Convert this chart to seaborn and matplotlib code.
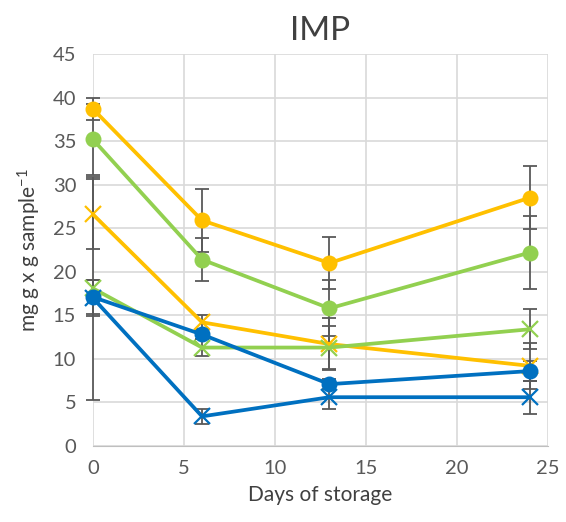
import matplotlib
matplotlib.use("Agg")
import matplotlib.pyplot as plt
import pandas as pd
import seaborn as sns

sns.set_style("white")
plt.rcParams.update({
    "font.family": ["Lato", "DejaVu Sans"],
    "mathtext.default": "regular",
})

days = [0, 6, 13, 24]

# series values (mean) and error
orange_circle = [38.7, 25.9, 21.0, 28.5]
orange_circle_err = [1.3, 3.6, 3.0, 3.6]
green_circle = [35.2, 21.4, 15.8, 22.2]
green_circle_err = [4.1, 2.5, 3.2, 4.2]
orange_x = [26.6, 14.2, 11.7, 9.2]
orange_x_err = [4.0, 0.8, 3.0, 2.6]
green_x = [18.1, 11.3, 11.3, 13.4]
green_x_err = [12.8, 1.0, 2.5, 2.3]
blue_circle = [17.1, 12.8, 7.1, 8.6]
blue_circle_err = [1.9, 0.5, 0.6, 1.1]
blue_x = [17.0, 3.4, 5.6, 5.6]
blue_x_err = [2.1, 0.9, 1.3, 1.9]

series = [
    ("orange_circle", orange_circle, orange_circle_err, "#FFC000", "o"),
    ("green_circle", green_circle, green_circle_err, "#92D050", "o"),
    ("orange_x", orange_x, orange_x_err, "#FFC000", "x"),
    ("green_x", green_x, green_x_err, "#92D050", "x"),
    ("blue_circle", blue_circle, blue_circle_err, "#0070C0", "o"),
    ("blue_x", blue_x, blue_x_err, "#0070C0", "x"),
]

fig = plt.figure(figsize=(5.66, 5.22), dpi=100)
ax = fig.add_axes([0.164, 0.1456, 0.804, 0.751])

for name, vals, errs, col, mk in series:
    eb = ax.errorbar(days, vals, yerr=errs, fmt="none", ecolor="#595959",
                     elinewidth=1.3, capsize=5, capthick=1.3, zorder=2)
    for art in eb.lines[1] + eb.lines[2]:
        art.set_clip_on(False)

for name, vals, errs, col, mk in series:
    df = pd.DataFrame({"day": days, "val": vals})
    if mk == "o":
        sns.lineplot(data=df, x="day", y="val", ax=ax, color=col, linewidth=2.7,
                     marker="o", markersize=11.5, markeredgewidth=0, zorder=3,
                     clip_on=False)
    else:
        sns.lineplot(data=df, x="day", y="val", ax=ax, color=col, linewidth=2.7,
                     marker="x", markersize=12, markeredgewidth=1.6,
                     markeredgecolor=col, zorder=3, clip_on=False)

ax.set_xlim(0, 25)
ax.set_ylim(0, 45)
ax.set_xticks(range(0, 26, 5))
ax.set_yticks(range(0, 46, 5))
ax.grid(True, color="#D9D9D9", linewidth=1.2)
ax.set_axisbelow(True)
for s in ax.spines.values():
    s.set_visible(False)
ax.spines["bottom"].set_visible(True)
ax.spines["bottom"].set_color("#BFBFBF")
ax.tick_params(axis="x", length=0, labelsize=14.5, colors="#595959", pad=10)
ax.tick_params(axis="y", length=0, labelsize=14.5, colors="#595959", pad=12)

ax.set_title("IMP", fontsize=24, color="#404040", pad=10)
ax.set_xlabel("Days of storage", fontsize=15, color="#404040", labelpad=6)
ax.set_ylabel("mg g x g sample$^{-1}$", fontsize=15, color="#404040", labelpad=7)

fig.savefig("out.png", dpi=100)
